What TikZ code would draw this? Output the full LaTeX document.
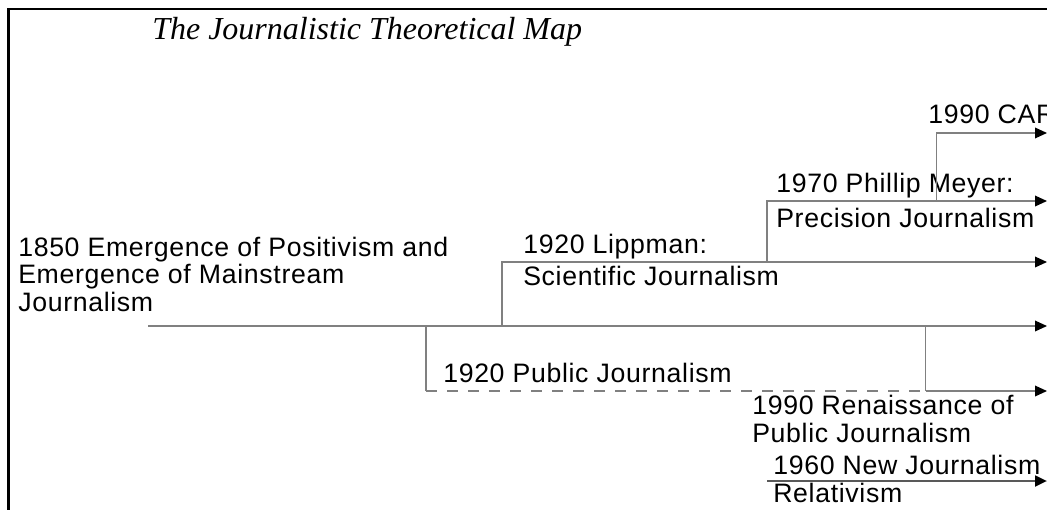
\documentclass[tikz,border=0pt]{standalone}
\usepackage{fontspec}
\newfontfamily\lblfont{Liberation Sans}[LetterSpace=2.5]
\newfontfamily\ttlfont{Liberation Serif}
\usetikzlibrary{arrows.meta}
\tikzset{x=0.75pt,y=-0.75pt,
  lbl/.style={anchor=base west,inner sep=0pt,align=left,font=\lblfont\fontsize{20}{20.6}\selectfont},
  tl/.style={draw=black!50,line width=1pt},
  arr/.style={tl,-{Triangle[length=9pt,width=8pt,color=black]}},
  frame/.style={draw=black,line width=2.2pt}}
\begin{document}
\begin{tikzpicture}
    \useasboundingbox (0,0) rectangle (1047,510);
    \draw[frame] (8.5,510) -- (8.5,9) -- (1047,9);
    \node[anchor=base west,inner sep=0pt,font=\ttlfont\itshape\fontsize{24}{28}\selectfont] (title) at (152,40) {The Journalistic Theoretical Map};
    % branch points and line ends
    \coordinate (s) at (148,326);
    \coordinate (e0) at (1047,326);
    \coordinate (b1) at (502,326);
    \coordinate (e1) at (1047,262);
    \coordinate (b2) at (767,262);
    \coordinate (e2) at (1047,201);
    \coordinate (b3) at (936.5,201);
    \coordinate (e3) at (1047,133);
    \coordinate (b4) at (426,326);
    \coordinate (c4) at (426,391);
    \coordinate (b5) at (925.5,326);
    \coordinate (c5) at (925.5,391);
    \coordinate (e5) at (1047,391);
    \coordinate (b6) at (767,481);
    \coordinate (e6) at (1047,481);
    % labels (multi-line: base = last line)
    \node[lbl] (pos) at (18,311) {1850 Emergence of Positivism and\\Emergence of Mainstream\\Journalism};
    \node[lbl] (lip) at (523,253) {1920 Lippman:};
    \node[lbl] (sci) at (523,285) {Scientific Journalism};
    \node[lbl] (mey) at (776,192) {1970 Phillip Meyer:};
    \node[lbl] (pre) at (776,227) {Precision Journalism};
    \node[lbl] (car) at (928,123) {1990 CAR};
    \node[lbl] (pub) at (443,382) {1920 Public Journalism};
    \node[lbl] (ren) at (752,442) {1990 Renaissance of\\Public Journalism};
    \node[lbl] (new) at (773,502) {1960 New Journalism\\Relativism};
    % lines
    \draw[arr] (s) -- (e0);
    \draw[arr] (b1) |- (e1);
    \draw[arr] (b2) |- (e2);
    \draw[arr] (b3) |- (e3);
    \draw[tl] (b4) -- (c4);
    \draw[tl,dash pattern=on 8.25pt off 7.5pt] (c4) -- (c5);
    \draw[tl] (b5) -- (c5);
    \draw[arr] (c5) -- (e5);
    \draw[arr,draw=black!65,line width=2pt] (b6) -- (e6);
\end{tikzpicture}
\end{document}
